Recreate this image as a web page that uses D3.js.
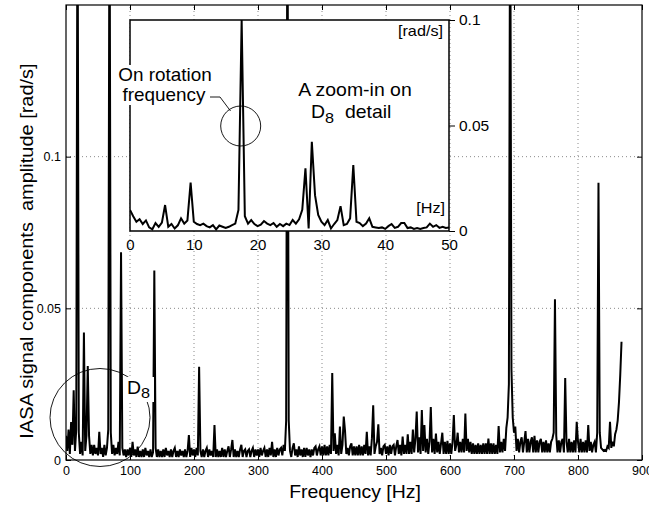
<!DOCTYPE html>
<html>
<head>
<meta charset="utf-8">
<script src="https://cdn.jsdelivr.net/npm/d3@7"></script>
<style>
body { margin: 0; background: #fff; }
svg { display: block; font-family: "Liberation Sans", Arial, sans-serif; }
</style>
</head>
<body>
<div class="chart-container"></div>
<script>
// main spectrum, amplitude in mrad/s, one sample every 2 Hz, one array per 100 Hz
var amp000 = [8,3,10,2,12.5,5,23,3,10,200, 9,2,6,1.5,42,3,8,31,8,2, 5,1.5,5,2,4,1.5,9.3,2,4,1, 5,1.5,4,10,200,9,2,5,1.5,4, 2,6,1.5,68.5,4,1.5,3.5,1,3.5,1.5];
var amp100 = [4,1,6,1.5,3.5,1,4.4,1,3,1, 3.5,1,4,1.5,3,1,3.5,1,2.5,62.5, 4,1,3.5,1,3,1,3.5,1,4,1.5, 3,1,3.5,1,3,4,1,3,1,3.5, 1.5,3,1,3.5,1,3,8.2,1,4,1.5];
var amp200 = [3.5,1,4,1.5,30.7,3,1,3.5,1,3, 4,1,3.5,1.5,3,1,11.5,1,3.5,1, 3,1,4,1,3.5,1,3,4.5,1,3.5, 6.6,1,3.5,1,3,1,3.5,5,1,3, 3.5,1,3,3.5,1,3,4,1,3.5,1.5];
var amp300 = [3.5,1,4,1.5,3,4,1,3.5,1,4, 1.5,6,1,3.5,1,4,1.5,3.5,4,1.5, 5,3,13,200,13,3,1,4,5.5,1.5, 3.5,1,4.5,1.5,3.5,1,4,1,4,1.5, 3.5,1,3.5,1.5,4,4.5,1.5,3.5,4.5,1.5];
var amp400 = [4.5,1.5,5,1.5,4.5,1.5,5,2,28.7,3, 8.8,2,5,1.5,11,2,5,14.3,9.5,2, 4,1.5,4.5,5.5,1.5,4.5,1.5,4.5,1.5,5, 1.5,4.5,1.5,5,2,9.3,1.5,4.5,1.5,7.2, 18,2,4.5,6,11.8,2,4,1.5,4.5,5];
var amp500 = [2,4.5,1.5,5,2,4.5,5,1.5,4.5,6.6, 2,5,1.5,7.7,2,5,2,8.5,2,6, 2,10,2.5,7,16,2.5,7.5,2,16.5,3, 11.5,2.5,7,2,6,17.5,2.5,7,2,8.7, 2.5,6,2,5.5,9,2,6,2,6.3,2];
var amp600 = [5.5,2,6,14.8,3,5,9,2.5,6,2.5, 7,2.5,15.3,3,7,2.5,6,2,5.5,2, 5,2,5.5,2,5,2,5.5,2,5.5,2, 7.1,2,5.5,2,5.5,2,5,2,11.2,2.5, 6,2.5,7,3,10.5,14,25,200,30,14];
var amp700 = [9,11,3,7,2.5,6,7.5,2.5,6,9.5, 2.5,7,2.5,6,7.5,2.5,8,2.5,6.5,2.5, 6,7,2.5,6,2.5,6.5,2.5,5.5,2.5,6, 7,9,53,8,2.5,6.5,2.5,6,7,2.5, 27,6,2.5,7,2.5,6,2.5,6.5,2.5,12.6];
var amp800 = [6,2.5,7,2.5,6,2.5,6.5,2.5,11.5,3, 6,2.5,5,6,2.5,9,91.4,9,4,3.5, 3,3.3,3,4.5,4,12.6,4,6,4.5,8.5, 10,13,19,28,39];

// zoom-in on D8, amplitude in mrad/s, one sample every 0.5 Hz from 0 to 50 Hz
var insetAmp = [10,7,4.4,5.6,3.3,5,1.7,0.8,3.8,2, 4,12.3,2,3.3,1.2,2.7,6,3.5,5,22.9,
  4.4,3.3,2.8,3.5,2.3,1.7,2.8,0.8,2.6,2, 1.4,2,2.8,3.5,10,100,7,3.5,5.2,3.3,
  2.3,3,4.7,3.5,2.8,3.8,2,3.3,2.3,3.5, 2.8,5.2,3.5,5.5,10,29.7,1.2,42.3,17,7.6,
  4.4,2.8,5.2,1.2,3.3,5.2,11.8,2.8,3.3,6, 31.3,4.4,3.8,2.3,3.5,6,2,1.7,1.4,1.7,
  1,2.3,3.3,1.5,2,3.8,3.8,1.4,1.7,1, 1.4,1,1.4,1.7,3.5,2,2.8,1.5,2,1.4, 1.7];

var mainTicksX = [0, 100, 200, 300, 400, 500, 600, 700, 800, 900];
var mainTicksY = [0, 0.05, 0.1];
var insetTicksX = [0, 10, 20, 30, 40, 50];
var insetTicksY = [0, 0.05, 0.1];

var segments = [[0, amp000], [100, amp100], [200, amp200], [300, amp300], [400, amp400],
  [500, amp500], [600, amp600], [700, amp700], [800, amp800]];

var mainData = [];
segments.forEach(function (s) {
	s[1].forEach(function (v, i) { mainData.push({f: s[0] + i * 2, a: v / 1000}); });
});
var insetData = insetAmp.map(function (v, i) { return {f: i * 0.5, a: v / 1000}; });

var width = 649, height = 506;
var stretch = 1.08; // the scanned lettering is a bit wider than Arial

var x = d3.scaleLinear().domain([0, 900]).range([66, 642]);
var y = d3.scaleLinear().domain([0, 0.15]).range([460, 5]);
var xi = d3.scaleLinear().domain([0, 50]).range([130, 449]);
var yi = d3.scaleLinear().domain([0, 0.1]).range([231, 20]);

var svg = d3.select('.chart-container').append("svg")
	.attr("width", width)
	.attr("height", height);

var defs = svg.append("defs");
defs.append("clipPath").attr("id", "clipMain").append("rect")
	.attr("x", 66).attr("y", 5).attr("width", 576).attr("height", 455);
defs.append("clipPath").attr("id", "clipInset").append("rect")
	.attr("x", 130).attr("y", 20).attr("width", 319).attr("height", 211);

function label(parent, px, py, str, size, anchor) {
	return parent.append("g")
		.attr("transform", "translate(" + px + "," + py + ") scale(" + stretch + ",1)")
		.append("text")
		.attr("text-anchor", anchor || "start")
		.attr("font-size", size)
		.attr("fill", "#000")
		.style("white-space", "pre")
		.text(str);
}

// grid
svg.append("g").selectAll("line.gx")
	.data(mainTicksX.slice(1, -1))
	.enter().append("line")
	.attr("x1", function (d) { return x(d); }).attr("x2", function (d) { return x(d); })
	.attr("y1", y(0)).attr("y2", y(0.15))
	.attr("stroke", "#8a8a8a").attr("stroke-dasharray", "1,3");
svg.append("g").selectAll("line.gy")
	.data(mainTicksY.slice(1))
	.enter().append("line")
	.attr("x1", x(0)).attr("x2", x(900))
	.attr("y1", function (d) { return y(d); }).attr("y2", function (d) { return y(d); })
	.attr("stroke", "#8a8a8a").attr("stroke-dasharray", "1,3");

var line = d3.line()
	.x(function (d) { return x(d.f); })
	.y(function (d) { return y(d.a); });

svg.append("path")
	.datum(mainData)
	.attr("clip-path", "url(#clipMain)")
	.attr("d", line)
	.attr("fill", "none")
	.attr("stroke", "#000")
	.attr("stroke-width", 2);

// main axes, ticks inside as in matlab
function tidy(g) { g.select(".domain").remove(); g.selectAll("text").attr("fill", "#000").attr("font-family", null); g.selectAll("line").attr("stroke", "#000"); }

svg.append("g")
	.attr("transform", "translate(0," + y(0) + ")")
	.call(d3.axisBottom(x).tickValues(mainTicksX).tickSize(-5).tickPadding(6).tickFormat(d3.format("d")))
	.attr("font-size", 12.5)
	.call(tidy);
svg.append("g")
	.attr("transform", "translate(0," + y(0.15) + ")")
	.call(d3.axisTop(x).tickValues(mainTicksX).tickSize(-5).tickFormat(""))
	.call(tidy);
svg.append("g")
	.attr("transform", "translate(" + x(0) + ",0)")
	.call(d3.axisLeft(y).tickValues(mainTicksY).tickSize(-5).tickPadding(5).tickFormat(function (d) { return String(d); }))
	.attr("font-size", 12.5)
	.call(tidy);
svg.append("g")
	.attr("transform", "translate(" + x(900) + ",0)")
	.call(d3.axisRight(y).tickValues(mainTicksY).tickSize(-5).tickFormat(""))
	.call(tidy);

svg.append("rect")
	.attr("x", x(0)).attr("y", y(0.15))
	.attr("width", x(900) - x(0)).attr("height", y(0) - y(0.15))
	.attr("fill", "none").attr("stroke", "#000").attr("stroke-width", 1.2);

label(svg, 355, 498, "Frequency [Hz]", 18, "middle");
svg.append("g")
	.attr("transform", "translate(33,251) rotate(-90) scale(" + stretch + ",1)")
	.append("text")
	.attr("text-anchor", "middle")
	.attr("font-size", 18.5)
	.style("white-space", "pre")
	.text("IASA signal components  amplitude [rad/s]");

// D8 marker on the main plot
svg.append("ellipse")
	.attr("cx", 100).attr("cy", 417.5).attr("rx", 50).attr("ry", 49)
	.attr("fill", "none").attr("stroke", "#000").attr("stroke-width", 0.9);
svg.append("rect").attr("x", 126).attr("y", 377).attr("width", 28).attr("height", 25).attr("fill", "#fff");
label(svg, 127, 394, "D", 18);
label(svg, 141, 398, "8", 15);

// inset
var inset = svg.append("g");
inset.append("rect")
	.attr("x", xi(0)).attr("y", yi(0.1))
	.attr("width", xi(50) - xi(0)).attr("height", yi(0) - yi(0.1))
	.attr("fill", "#fff");

var lineInset = d3.line()
	.x(function (d) { return xi(d.f); })
	.y(function (d) { return yi(d.a); });

inset.append("path")
	.datum(insetData)
	.attr("clip-path", "url(#clipInset)")
	.attr("d", lineInset)
	.attr("fill", "none")
	.attr("stroke", "#000")
	.attr("stroke-width", 2);

inset.append("g")
	.attr("transform", "translate(0," + yi(0) + ")")
	.call(d3.axisBottom(xi).tickValues(insetTicksX).tickSize(0).tickPadding(8).tickFormat(d3.format("d")))
	.attr("font-size", 15)
	.call(tidy);
inset.append("g")
	.attr("transform", "translate(" + xi(50) + ",0)")
	.call(d3.axisRight(yi).tickValues(insetTicksY).tickSize(6).tickPadding(4).tickFormat(function (d) { return String(d); }))
	.attr("font-size", 15.5)
	.call(tidy);

inset.append("rect")
	.attr("x", xi(0)).attr("y", yi(0.1))
	.attr("width", xi(50) - xi(0)).attr("height", yi(0) - yi(0.1))
	.attr("fill", "none").attr("stroke", "#000").attr("stroke-width", 1.5);

label(inset, 443, 36, "[rad/s]", 15, "end");
label(inset, 445, 213, "[Hz]", 15, "end");
label(inset, 355, 96, "A zoom-in on", 18, "middle");
label(inset, 311, 118, "D", 18);
label(inset, 325, 122.5, "8", 15);
label(inset, 345, 118, "detail", 18);

// rotation frequency callout
inset.append("rect").attr("x", 114).attr("y", 65).attr("width", 102).attr("height", 40).attr("fill", "#fff");
label(inset, 165, 80.5, "On rotation", 17.5, "middle");
label(inset, 164, 100.5, "frequency", 17.5, "middle");
inset.append("polyline")
	.attr("points", "210,97 220,97 230.5,111")
	.attr("fill", "none").attr("stroke", "#000").attr("stroke-width", 0.9);
inset.append("circle")
	.attr("cx", 240.7).attr("cy", 126).attr("r", 20)
	.attr("fill", "none").attr("stroke", "#000").attr("stroke-width", 0.9);
</script>
</body>
</html>
